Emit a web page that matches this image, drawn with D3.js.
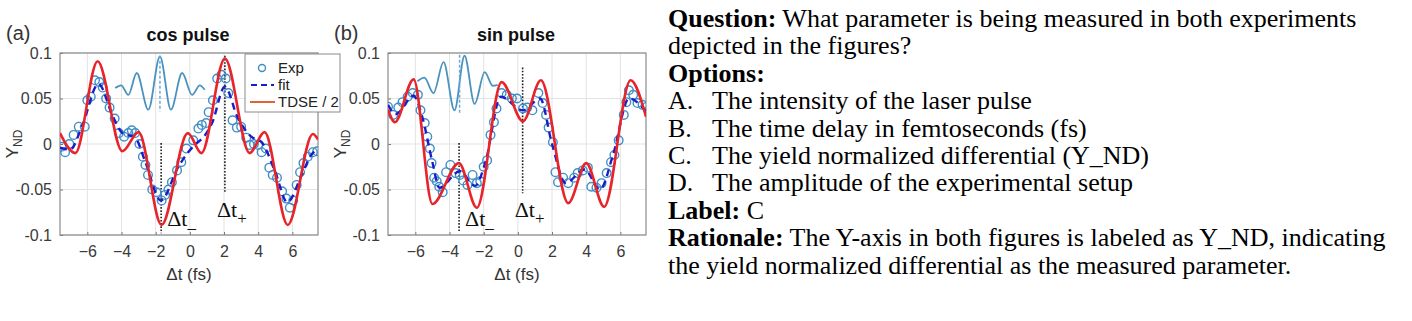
<!DOCTYPE html>
<html>
<head>
<meta charset="utf-8">
<script src="https://cdn.jsdelivr.net/npm/d3@7"></script>
<style>
  body { margin: 0; background: #fff; }
  svg { display: block; }
</style>
</head>
<body>
<svg id="fig" width="1412" height="321"></svg>
<script>
// ---- axes ----
const xTicks = [-6, -4, -2, 0, 2, 4, 6];
const yTicks = [-0.1, -0.05, 0, 0.05, 0.1];
const yTickLabels = ['-0.1', '-0.05', '0', '0.05', '0.1'];
const xDomain = [-7.6, 7.5];
const yDomain = [-0.1, 0.1];

// ---- (a) cos pulse ----
const cosExpT = [-7.5, -7.3, -7.05, -6.8, -6.5, -6.15, -6.0, -5.8, -5.55, -5.3, -5.1, -4.9, -4.7, -4.4, -4.15, -3.85, -3.6, -3.4, -3.2, -2.95,
  -2.75, -2.6, -2.45, -2.2, -1.95, -1.65, -1.45, -1.25, -1.05, -0.75, -0.5, -0.2, 0.2, 0.5, 0.7, 0.95, 1.1, 1.35, 1.6, 1.85,
  2.1, 2.25, 2.5, 2.75, 3.0, 3.3, 3.5, 3.75, 4.0, 4.2, 4.45, 4.65, 4.85, 5.1, 5.4, 5.65, 5.85, 6.05, 6.25, 6.45,
  6.65, 6.9, 7.2, 7.45];
const cosExpY = [-0.003, -0.009, 0.0, 0.010, 0.019, 0.019, 0.048, 0.052, 0.070, 0.068, 0.062, 0.050, 0.040, 0.028, 0.012, 0.008, 0.012, 0.015, 0.012, 0.0,
  -0.014, -0.023, -0.034, -0.050, -0.053, -0.062, -0.056, -0.050, -0.042, -0.029, -0.020, -0.005, 0.004, 0.017, 0.021, 0.023, 0.035, 0.048, 0.072, 0.076,
  0.072, 0.056, 0.026, 0.018, 0.019, 0.007, -0.001, 0.0, -0.001, -0.009, -0.005, -0.026, -0.034, -0.037, -0.052, -0.060, -0.070, -0.062, -0.045, -0.031,
  -0.021, -0.014, -0.009, -0.008];
const cosFitT = [-7.6, -7.0, -6.3, -5.35, -4.5, -3.95, -3.2, -2.6, -1.7, -0.7, -0.1, 0.3, 0.9, 1.3, 2.05, 2.8, 3.6, 4.2, 5.0, 5.7, 6.55, 7.1, 7.5];
const cosFitY = [-0.004, -0.006, 0.020, 0.066, 0.030, 0.012, 0.007, -0.020, -0.062, -0.026, -0.009, -0.001, 0.010, 0.023, 0.063, 0.029, 0.008, 0.002, -0.031, -0.064, -0.034, -0.012, -0.006];
const cosTdseT = [-7.6, -6.7, -5.4, -3.95, -3.0, -1.66, -0.12, 0.68, 2.05, 3.5, 4.37, 5.73, 7.2, 7.5];
const cosTdseY = [0.012, -0.010, 0.091, -0.008, 0.013, -0.089, 0.012, -0.010, 0.094, -0.010, 0.013, -0.089, 0.011, 0.005];
const cosPulseT = [-4.37, -4.02, -3.6, -3.11, -2.43, -1.75, -1.11, -0.45, 0.13, 0.58, 0.87];
const cosPulseY = [0.0615, 0.0645, 0.054, 0.078, 0.0377, 0.0964, 0.0377, 0.078, 0.054, 0.0645, 0.0597];
const cosPulseCenter = [-1.75, 0.097, 0.036];      // t, top, bottom
const cosDtMinus = [-1.68, 0.001, -0.098];
const cosDtPlus = [2.05, 0.097, -0.053];

// ---- (b) sin pulse ----
const sinExpT = [-7.6, -7.3, -7.0, -6.75, -6.45, -6.15, -5.85, -5.7, -5.45, -5.3, -5.15, -5.05, -4.9, -4.75, -4.6, -4.4, -4.2, -3.95, -3.65, -3.4,
  -3.2, -2.95, -2.65, -2.4, -2.2, -2.0, -1.8, -1.6, -1.4, -1.25, -0.95, -0.65, -0.35, -0.05, 0.3, 0.55, 0.85, 1.2, 1.45, 1.65,
  1.8, 2.05, 2.2, 2.35, 2.65, 2.95, 3.3, 3.5, 3.8, 4.1, 4.3, 4.6, 4.9, 5.2, 5.45, 5.65, 5.9, 6.2, 6.35, 6.5,
  6.75, 7.0, 7.3, 7.55];
const sinExpY = [0.041, 0.032, 0.040, 0.046, 0.052, 0.056, 0.054, 0.037, 0.023, 0.008, -0.005, -0.021, -0.037, -0.041, -0.047, -0.053, -0.031, -0.023, -0.032, -0.034,
  -0.040, -0.045, -0.034, -0.043, -0.041, -0.025, -0.018, 0.010, 0.024, 0.039, 0.056, 0.054, 0.050, 0.050, 0.039, 0.040, 0.037, 0.056, 0.045, 0.032,
  0.018, 0.002, -0.031, -0.042, -0.037, -0.043, -0.037, -0.032, -0.029, -0.026, -0.047, -0.048, -0.043, -0.032, -0.020, -0.012, 0.004, 0.032, 0.046, 0.059,
  0.054, 0.045, 0.043, 0.041];
const sinFitT = [-7.6, -7.15, -6.1, -5.6, -5.0, -4.6, -3.4, -2.5, -1.9, -1.0, 0.3, 1.3, 2.0, 2.8, 3.9, 4.8, 5.6, 6.5, 7.5];
const sinFitY = [0.043, 0.033, 0.053, 0.030, -0.020, -0.048, -0.030, -0.046, -0.020, 0.052, 0.037, 0.050, 0.000, -0.043, -0.028, -0.050, -0.010, 0.050, 0.036];
const sinTdseT = [-7.6, -7.2, -6.1, -5.0, -3.45, -2.4, -0.95, 0.3, 1.35, 2.95, 4.0, 5.05, 6.6, 7.5];
const sinTdseY = [0.038, 0.024, 0.071, -0.066, -0.021, -0.070, 0.068, 0.025, 0.070, -0.065, -0.021, -0.069, 0.070, 0.030];
const sinPulseT = [-5.88, -5.47, -4.94, -4.35, -3.71, -3.12, -2.53, -1.94, -1.47, -1.18];
const sinPulseY = [0.069, 0.073, 0.056, 0.090, 0.037, 0.097, 0.044, 0.079, 0.064, 0.065];
const sinPulseCenter = [-3.41, 0.098, 0.034];
const sinDtMinus = [-3.44, 0.001, -0.097];
const sinDtPlus = [0.28, 0.084, -0.054];

// ---- legend ----
const legendLabels = ['Exp', 'fit', 'TDSE / 2'];

// ---- question text ----
const questionLines = ['What parameter is being measured in both experiments', 'depicted in the figures?'];
const optionLetters = ['A.', 'B.', 'C.', 'D.'];
const optionTexts = ['The intensity of the laser pulse', 'The time delay in femtoseconds (fs)',
  'The yield normalized differential (Y_ND)', 'The amplitude of the experimental setup'];
const answerLabel = 'C';
const rationaleLines = ['The Y-axis in both figures is labeled as Y_ND, indicating',
  'the yield normalized differential as the measured parameter.'];

const zip = (t, y) => t.map((d, i) => ({ t: d, v: y[i] }));

const panels = [
  {
    tag: '(a)', title: 'cos pulse', left: 60, right: 318,
    exp: zip(cosExpT, cosExpY), fit: zip(cosFitT, cosFitY), tdse: zip(cosTdseT, cosTdseY),
    pulse: zip(cosPulseT, cosPulseY), pulseCenter: cosPulseCenter,
    dtMinus: cosDtMinus, dtPlus: cosDtPlus, legend: true
  },
  {
    tag: '(b)', title: 'sin pulse', left: 388, right: 646,
    exp: zip(sinExpT, sinExpY), fit: zip(sinFitT, sinFitY), tdse: zip(sinTdseT, sinTdseY),
    pulse: zip(sinPulseT, sinPulseY), pulseCenter: sinPulseCenter,
    dtMinus: sinDtMinus, dtPlus: sinDtPlus, legend: false
  }
];

const svg = d3.select('#fig');
const TOP = 53, BOTTOM = 235;
const sans = 'Liberation Sans, Arial, sans-serif';
const serif = 'Liberation Serif, Times New Roman, serif';
const COL_EXP = '#3f8fc6';
const COL_FIT = '#1c1cc8';
const COL_TDSE = '#e8242a';
const COL_PULSE = '#4a92bf';

panels.forEach((p, idx) => {
  const x = d3.scaleLinear().domain(xDomain).range([p.left, p.right]);
  const y = d3.scaleLinear().domain(yDomain).range([BOTTOM, TOP]);
  const g = svg.append('g');

  const clipId = 'clip' + idx;
  svg.append('clipPath').attr('id', clipId)
    .append('rect').attr('x', p.left).attr('y', TOP).attr('width', p.right - p.left).attr('height', BOTTOM - TOP);

  // grid
  g.selectAll('.gx').data(xTicks).enter().append('line')
    .attr('x1', d => x(d)).attr('x2', d => x(d)).attr('y1', TOP).attr('y2', BOTTOM)
    .attr('stroke', '#e3e3e3').attr('stroke-width', 1);
  g.selectAll('.gy').data(yTicks).enter().append('line')
    .attr('y1', d => y(d)).attr('y2', d => y(d)).attr('x1', p.left).attr('x2', p.right)
    .attr('stroke', '#e3e3e3').attr('stroke-width', 1);

  // axes (ticks inside, box)
  const xAxis = d3.axisBottom(x).tickValues(xTicks).tickSize(-3).tickPadding(11).tickFormat(d3.format('d'));
  const yAxis = d3.axisLeft(y).tickValues(yTicks).tickSize(-3).tickPadding(8).tickFormat((d, i) => yTickLabels[i]);
  const gx = g.append('g').attr('transform', `translate(0,${BOTTOM})`).call(xAxis);
  const gy = g.append('g').attr('transform', `translate(${p.left},0)`).call(yAxis);
  [gx, gy].forEach(a => {
    a.attr('font-size', null).attr('font-family', null);
    a.select('.domain').remove();
    a.selectAll('line').attr('stroke', '#777');
    a.selectAll('text').attr('fill', '#3a3a3a').style('font-family', sans).style('font-size', '16px');
  });
  g.append('rect').attr('x', p.left).attr('y', TOP).attr('width', p.right - p.left).attr('height', BOTTOM - TOP)
    .attr('fill', 'none').attr('stroke', '#8a8a8a').attr('stroke-width', 1.2);

  const plot = g.append('g').attr('clip-path', `url(#${clipId})`);

  // inset pulse
  const line = d3.line().x(d => x(d.t)).y(d => y(d.v)).curve(d3.curveMonotoneX);
  plot.append('path').datum(p.pulse).attr('d', line)
    .attr('fill', 'none').attr('stroke', COL_PULSE).attr('stroke-width', 1.8);
  plot.append('line')
    .attr('x1', x(p.pulseCenter[0])).attr('x2', x(p.pulseCenter[0]))
    .attr('y1', y(p.pulseCenter[1])).attr('y2', y(p.pulseCenter[2]))
    .attr('stroke', '#6aaad6').attr('stroke-width', 1.5).attr('stroke-dasharray', '3,2');

  // dotted delay markers
  [p.dtMinus, p.dtPlus].forEach(m => {
    plot.append('line')
      .attr('x1', x(m[0])).attr('x2', x(m[0])).attr('y1', y(m[1])).attr('y2', y(m[2]))
      .attr('stroke', '#222').attr('stroke-width', 1.6).attr('stroke-dasharray', '1.6,1.6');
  });

  // exp circles
  plot.selectAll('.exp').data(p.exp).enter().append('circle')
    .attr('cx', d => x(d.t)).attr('cy', d => y(d.v)).attr('r', 4.3)
    .attr('fill', 'none').attr('stroke', COL_EXP).attr('stroke-width', 1.4);

  // fit
  plot.append('path').datum(p.fit).attr('d', line)
    .attr('fill', 'none').attr('stroke', COL_FIT).attr('stroke-width', 2.4).attr('stroke-dasharray', '7,5');

  // TDSE / 2
  plot.append('path').datum(p.tdse).attr('d', line)
    .attr('fill', 'none').attr('stroke', COL_TDSE).attr('stroke-width', 2.6);

  // Δt labels
  const dtLabel = (xPos, yPos, sub) => {
    const t = g.append('text').attr('x', xPos).attr('y', yPos)
      .style('font-family', serif).style('font-size', '22px').attr('fill', '#111');
    t.append('tspan').text('\u0394t');
    t.append('tspan').attr('dy', 7).style('font-size', '17px').text(sub);
  };
  dtLabel(x(p.dtMinus[0]) + 6, 226, '\u2013');
  dtLabel(x(p.dtPlus[0]) - 8, 217, '+');

  // titles
  const cx = (p.left + p.right) / 2;
  g.append('text').attr('x', cx - 1).attr('y', 41).attr('text-anchor', 'middle')
    .style('font-family', sans).style('font-size', '18px').style('font-weight', 'bold').attr('fill', '#111')
    .text(p.title);
  g.append('text').attr('x', p.left - 54).attr('y', 40)
    .style('font-family', sans).style('font-size', '20px').attr('fill', '#333')
    .text(p.tag);

  // axis labels
  const xl = g.append('text').attr('x', cx).attr('y', 280).attr('text-anchor', 'middle')
    .style('font-family', sans).style('font-size', '17px').attr('fill', '#333');
  xl.text('\u0394t (fs)');
  const yl = g.append('text').attr('transform', `translate(${p.left - 42},${(TOP + BOTTOM) / 2}) rotate(-90)`)
    .attr('text-anchor', 'middle')
    .style('font-family', sans).style('font-size', '17px').attr('fill', '#333');
  yl.append('tspan').text('Y');
  yl.append('tspan').attr('dy', 4).style('font-size', '12px').text('ND');

  // legend
  if (p.legend) {
    const lg = svg.append('g');
    const lx = 245, ly = 54;
    lg.append('rect').attr('x', lx).attr('y', ly).attr('width', 95).attr('height', 58)
      .attr('fill', '#fff').attr('stroke', '#8a8a8a').attr('stroke-width', 1);
    const rows = [ly + 14, ly + 31, ly + 48];
    lg.append('circle').attr('cx', lx + 17).attr('cy', rows[0]).attr('r', 3.5)
      .attr('fill', 'none').attr('stroke', COL_EXP).attr('stroke-width', 1.4);
    lg.append('line').attr('x1', lx + 6).attr('x2', lx + 29).attr('y1', rows[1]).attr('y2', rows[1])
      .attr('stroke', COL_FIT).attr('stroke-width', 2).attr('stroke-dasharray', '6,4');
    lg.append('line').attr('x1', lx + 5).attr('x2', lx + 30).attr('y1', rows[2]).attr('y2', rows[2])
      .attr('stroke', '#d9541e').attr('stroke-width', 1.8);
    lg.selectAll('.lt').data(legendLabels).enter().append('text')
      .attr('x', lx + 33).attr('y', (d, i) => rows[i] + 5)
      .style('font-family', sans).style('font-size', '15px').attr('fill', '#222')
      .text(d => d);
  }
});

// ---- question panel ----
const tx = 668, lh = 27.4, fs = '26px';
let row = 0;
const baseY = i => 27 + i * lh;
const tLine = (parts, xPos) => {
  const t = svg.append('text').attr('x', xPos).attr('y', baseY(row))
    .style('font-family', serif).style('font-size', fs).attr('fill', '#000');
  parts.forEach(p => t.append('tspan').style('font-weight', p.bold ? 'bold' : 'normal').text(p.text));
  row++;
  return t;
};
tLine([{ text: 'Question:', bold: true }, { text: ' ' + questionLines[0] }], tx);
tLine([{ text: questionLines[1] }], tx);
tLine([{ text: 'Options:', bold: true }], tx);
optionLetters.forEach((l, i) => {
  svg.append('text').attr('x', tx).attr('y', baseY(row))
    .style('font-family', serif).style('font-size', fs).text(l);
  tLine([{ text: optionTexts[i] }], tx + 44);
});
tLine([{ text: 'Label:', bold: true }, { text: ' ' + answerLabel }], tx);
tLine([{ text: 'Rationale:', bold: true }, { text: ' ' + rationaleLines[0] }], tx);
tLine([{ text: rationaleLines[1] }], tx);
</script>
</body>
</html>
